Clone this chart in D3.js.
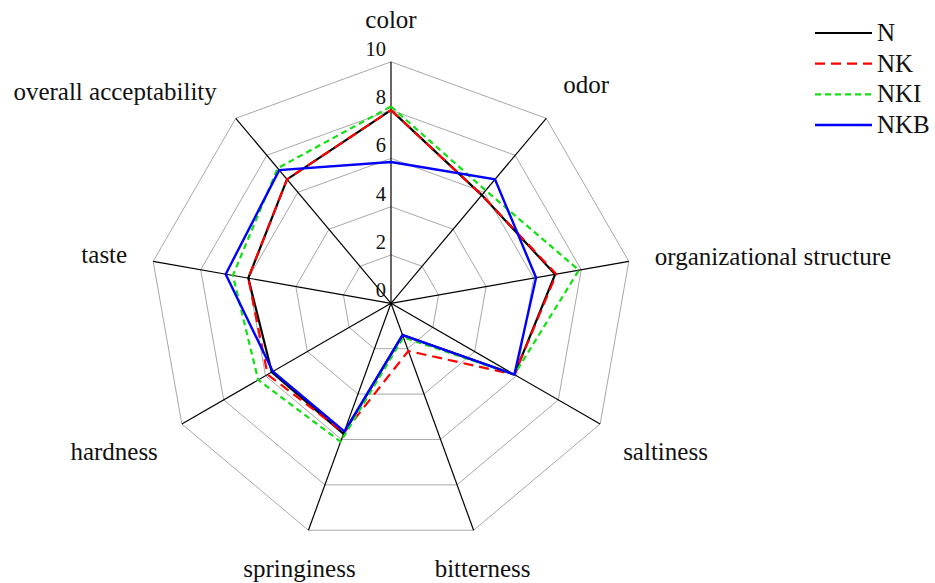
<!DOCTYPE html>
<html>
<head>
<meta charset="utf-8">
<script src="https://cdn.jsdelivr.net/npm/d3@7"></script>
<style>
  html, body { margin: 0; padding: 0; background: #fff; }
  svg { display: block; }
  text { font-family: "Liberation Serif", "Times New Roman", serif; fill: #111; }
</style>
</head>
<body>
<svg id="chart" width="935" height="583"></svg>
<script>
// ---- data ----
const categories = ["color", "odor", "organizational structure", "saltiness", "bitterness",
                    "springiness", "hardness", "taste", "overall acceptability"];
const N   = [8.0, 5.85, 6.9, 5.9, 1.4, 5.75, 5.7, 6.0, 6.7];
const NK  = [8.0, 5.85, 6.95, 5.9, 2.1, 5.7, 5.9, 6.0, 6.7];
const NKI = [8.15, 6.1, 7.9, 5.9, 1.5, 6.1, 6.35, 6.65, 7.3];
const NKB = [5.85, 6.7, 6.1, 5.9, 1.4, 5.65, 5.65, 6.95, 7.2];
const seriesNames = ["N", "NK", "NKI", "NKB"];
const tickValues = [0, 2, 4, 6, 8, 10];

// ---- layout / style ----
const seriesData = [N, NK, NKI, NKB];
const seriesStyle = [
  { color: "#000000", dash: null, width: 2.2 },
  { color: "#ff0000", dash: "10,6", width: 2.2 },
  { color: "#11e011", dash: "6,4", width: 2.2 },
  { color: "#0000ff", dash: null, width: 2.4 }
];
const cx = 391, cy = 303.3, R = 241.5;
const labelFont = 25, tickFont = 20.5;
const labelDx = [0, 40, 26, 23, 9, -9, -24, -26, -19];
const labelDy = [-34, -25, 4, 36, 47, 47, 36, 2, -18];
const labelAnchor = ["middle", "middle", "start", "start", "middle", "middle", "end", "end", "end"];

const svg = d3.select("#chart");
const g = svg.append("g").attr("transform", `translate(${cx},${cy})`);
const r = d3.scaleLinear().domain([0, 10]).range([0, R]);
const angle = d3.scaleLinear().domain([0, categories.length]).range([0, 2 * Math.PI]);
const px = (i, v) => r(v) * Math.sin(angle(i));
const py = (i, v) => -r(v) * Math.cos(angle(i));

// grid rings
const ringLine = d3.line().x(d => d[0]).y(d => d[1]);
tickValues.filter(t => t > 0).forEach(t => {
  const pts = categories.map((c, i) => [px(i, t), py(i, t)]);
  pts.push(pts[0]);
  g.append("path").attr("d", ringLine(pts))
    .attr("fill", "none").attr("stroke", "#a8a8a8").attr("stroke-width", 1);
});

// axes
categories.forEach((c, i) => {
  g.append("line").attr("x1", 0).attr("y1", 0)
    .attr("x2", px(i, 10)).attr("y2", py(i, 10))
    .attr("stroke", "#000").attr("stroke-width", 1.2);
});

// tick labels
tickValues.forEach(t => {
  g.append("text").attr("x", -5).attr("y", -r(t) - 6)
    .attr("text-anchor", "end").attr("font-size", tickFont).text(t);
});

// category labels
categories.forEach((c, i) => {
  g.append("text")
    .attr("x", px(i, 10) + labelDx[i])
    .attr("y", py(i, 10) + labelDy[i])
    .attr("text-anchor", labelAnchor[i])
    .attr("font-size", labelFont)
    .text(c);
});

// series
const radial = d3.lineRadial().angle((d, i) => angle(i)).radius(d => r(d)).curve(d3.curveLinearClosed);
seriesData.forEach((s, k) => {
  g.append("path").attr("d", radial(s))
    .attr("fill", "none")
    .attr("stroke", seriesStyle[k].color)
    .attr("stroke-width", seriesStyle[k].width)
    .attr("stroke-dasharray", seriesStyle[k].dash)
    .attr("stroke-linejoin", "miter");
});

// legend
const lg = svg.append("g");
const ly = d3.scalePoint().domain(seriesNames).range([33, 125]);
seriesNames.forEach((n, k) => {
  lg.append("line").attr("x1", 815).attr("x2", 872)
    .attr("y1", ly(n)).attr("y2", ly(n))
    .attr("stroke", seriesStyle[k].color)
    .attr("stroke-width", seriesStyle[k].width)
    .attr("stroke-dasharray", seriesStyle[k].dash);
  lg.append("text").attr("x", 877).attr("y", ly(n) + 8)
    .attr("font-size", labelFont).text(n);
});
</script>
</body>
</html>
